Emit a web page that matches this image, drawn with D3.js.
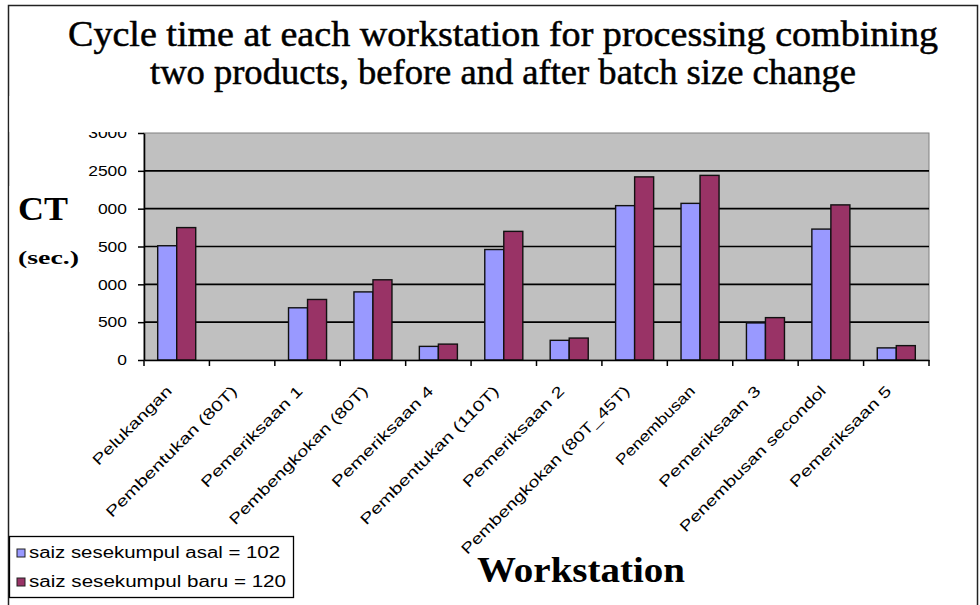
<!DOCTYPE html>
<html>
<head>
<meta charset="utf-8">
<script src="https://cdn.jsdelivr.net/npm/d3@7"></script>
<style>
  body { margin: 0; background: #fff; }
</style>
</head>
<body>
<svg id="mySvg"></svg>
<script>
// workstations along the x axis
var workstations = ["Pelukangan", "Pembentukan (80T)", "Pemeriksaan 1", "Pembengkokan (80T)",
  "Pemeriksaan 4", "Pembentukan (110T)", "Pemeriksaan 2", "Pembengkokan (80T_45T)",
  "Penembusan", "Pemeriksaan 3", "Penembusan secondol", "Pemeriksaan 5"];
// cycle time (sec.) per batch size
var batchAsal = [1510, 0, 690, 900, 180, 1460, 260, 2040, 2070, 490, 1730, 160];
var batchBaru = [1750, 0, 800, 1060, 210, 1700, 290, 2420, 2440, 560, 2050, 190];
var seriesNames = ["saiz sesekumpul asal = 102", "saiz sesekumpul baru = 120"];
var yTicks = [0, 500, 1000, 1500, 2000, 2500, 3000];

var svgWidth = 980, svgHeight = 605;
var plot = { left: 144, right: 929, top: 133, bottom: 360 };

var svg = d3.select("#mySvg")
  .attr("width", svgWidth)
  .attr("height", svgHeight)
  .style("display", "block");

// outer frame
svg.append("rect")
  .attr("x", 8.5).attr("y", 5.5)
  .attr("width", 969).attr("height", 610)
  .attr("fill", "#fff").attr("stroke", "#222").attr("stroke-width", 1.5);

var x0 = d3.scaleBand().domain(workstations).range([plot.left, plot.right]);
// excel style: gap width 150% of a bar
var x1 = d3.scaleBand().domain([0, 1]).range([0, x0.bandwidth()]).paddingInner(0).paddingOuter(0.72);
var y = d3.scaleLinear().domain([0, 3000]).range([plot.bottom, plot.top]);

// plot background
svg.append("rect")
  .attr("x", plot.left).attr("y", plot.top)
  .attr("width", plot.right - plot.left).attr("height", plot.bottom - plot.top)
  .attr("fill", "#c0c0c0").attr("stroke", "#808080").attr("stroke-width", 1);

// gridlines
svg.append("g").selectAll("line")
  .data(yTicks.filter(function(d) { return d > 0 && d < 3000; }))
  .enter().append("line")
  .attr("x1", plot.left).attr("x2", plot.right)
  .attr("y1", function(d) { return y(d); }).attr("y2", function(d) { return y(d); })
  .attr("stroke", "#000").attr("stroke-width", 1.6);

// bars
var colors = ["#9999ff", "#993366"];
var series = [batchAsal, batchBaru];
var groups = svg.append("g").selectAll("g")
  .data(workstations)
  .enter().append("g")
  .attr("transform", function(d) { return "translate(" + x0(d) + ",0)"; });

groups.selectAll("rect")
  .data(function(d, i) { return series.map(function(s, k) { return { k: k, v: s[i] }; }); })
  .enter().append("rect")
  .filter(function(d) { return d.v > 0; })
  .attr("x", function(d) { return x1(d.k); })
  .attr("width", x1.bandwidth())
  .attr("y", function(d) { return y(d.v); })
  .attr("height", function(d) { return y(0) - y(d.v); })
  .attr("fill", function(d) { return colors[d.k]; })
  .attr("stroke", "#111")
  .attr("stroke-width", 1.4);

// y axis
var yAxis = svg.append("g")
  .attr("transform", "translate(" + plot.left + ",0)")
  .call(d3.axisLeft(y).tickValues(yTicks).tickFormat(d3.format("d")).tickSize(6).tickSizeOuter(0).tickPadding(11));
yAxis.select(".domain").attr("stroke", "#000").attr("stroke-width", 1.6);
yAxis.selectAll(".tick line").attr("stroke", "#000").attr("stroke-width", 1.5);
yAxis.selectAll("text")
  .attr("font-family", "Liberation Sans, Arial, sans-serif")
  .attr("font-size", 15).attr("fill", "#000")
  .attr("textLength", function(d) { return String(d).length * 9.7; })
  .attr("lengthAdjust", "spacingAndGlyphs");

// x axis
var xAxis = svg.append("g")
  .attr("transform", "translate(0," + plot.bottom + ")")
  .call(d3.axisBottom(x0).tickSize(0).tickFormat(""));
xAxis.select(".domain").attr("stroke", "#000").attr("stroke-width", 1.6);
svg.append("g").selectAll("line")
  .data(d3.range(workstations.length + 1))
  .enter().append("line")
  .attr("x1", function(i) { return plot.left + i * x0.step(); })
  .attr("x2", function(i) { return plot.left + i * x0.step(); })
  .attr("y1", plot.bottom).attr("y2", plot.bottom + 6)
  .attr("stroke", "#000").attr("stroke-width", 1.5);

svg.append("g").selectAll("text")
  .data(workstations)
  .enter().append("text")
  .attr("transform", function(d) {
    return "translate(" + (x0(d) + x0.bandwidth() / 2 - 4) + "," + (plot.bottom + 32) + ") rotate(-45)";
  })
  .attr("text-anchor", "end")
  .attr("font-family", "Liberation Sans, Arial, sans-serif")
  .attr("font-size", 15)
  .attr("fill", "#000")
  .attr("textLength", function(d) { return d.length * 10.5; })
  .attr("lengthAdjust", "spacingAndGlyphs")
  .text(function(d) { return d; });

// masks covering clipped tick labels
svg.append("rect").attr("x", 9.5).attr("y", 96).attr("width", 130).attr("height", 36).attr("fill", "#fff");
svg.append("rect").attr("x", 9.5).attr("y", 186).attr("width", 88).attr("height", 146).attr("fill", "#fff");

// title
var title = svg.append("g")
  .attr("font-family", "Liberation Serif, Times New Roman, serif")
  .attr("font-size", 35)
  .attr("fill", "#000")
  .attr("stroke", "#000").attr("stroke-width", 0.5)
  .attr("text-anchor", "middle");
title.append("text").attr("x", 503).attr("y", 46)
  .attr("textLength", 870).attr("lengthAdjust", "spacingAndGlyphs")
  .text("Cycle time at each workstation for processing combining");
title.append("text").attr("x", 503).attr("y", 84)
  .attr("textLength", 706).attr("lengthAdjust", "spacingAndGlyphs")
  .text("two products, before and after batch size change");

// axis titles
svg.append("text").attr("x", 18).attr("y", 220)
  .attr("font-family", "Liberation Serif, Times New Roman, serif")
  .attr("font-weight", "bold").attr("font-size", 34)
  .attr("textLength", 50).attr("lengthAdjust", "spacingAndGlyphs")
  .text("CT");
svg.append("text").attr("x", 18).attr("y", 264)
  .attr("font-family", "Liberation Serif, Times New Roman, serif")
  .attr("font-weight", "bold").attr("font-size", 18)
  .attr("textLength", 61).attr("lengthAdjust", "spacingAndGlyphs")
  .text("(sec.)");
svg.append("text").attr("x", 477).attr("y", 582)
  .attr("font-family", "Liberation Serif, Times New Roman, serif")
  .attr("font-weight", "bold").attr("font-size", 35)
  .attr("textLength", 208).attr("lengthAdjust", "spacingAndGlyphs")
  .text("Workstation");

// legend
var legend = svg.append("g");
legend.append("rect")
  .attr("x", 9.5).attr("y", 536.5).attr("width", 284).attr("height", 61)
  .attr("fill", "#fff").attr("stroke", "#000").attr("stroke-width", 1.3);
var items = legend.selectAll("g.item")
  .data(seriesNames)
  .enter().append("g").attr("class", "item")
  .attr("transform", function(d, i) { return "translate(0," + (i * 29) + ")"; });
items.append("rect")
  .attr("x", 17).attr("y", 549).attr("width", 8).attr("height", 8)
  .attr("fill", function(d, i) { return colors[i]; })
  .attr("stroke", "#222").attr("stroke-width", 1);
items.append("text")
  .attr("x", 29).attr("y", 558)
  .attr("font-family", "Liberation Sans, Arial, sans-serif")
  .attr("font-size", 16)
  .attr("fill", "#000")
  .attr("textLength", function(d, i) { return i === 0 ? 251 : 257; })
  .attr("lengthAdjust", "spacingAndGlyphs")
  .text(function(d) { return d; });
</script>
</body>
</html>
